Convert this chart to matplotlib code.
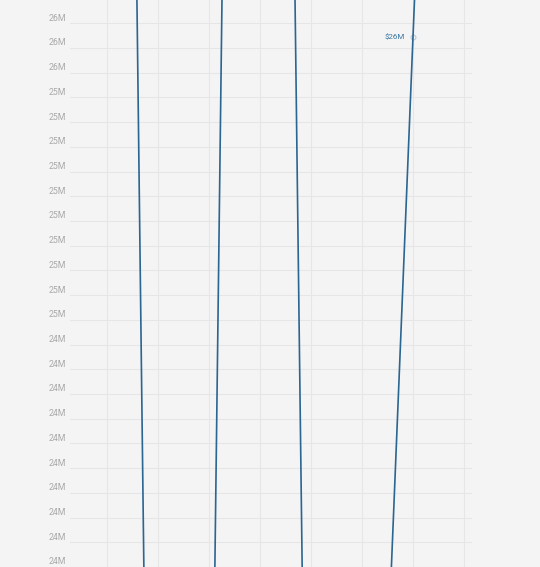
#!/usr/bin/env python

import matplotlib
matplotlib.use('Agg')
import matplotlib.pyplot as plt
import matplotlib.transforms as mtransforms
import numpy as np

# decimal years and values (millions of dollars)
years = [2015.90, 2017.41, 2018.97, 2020.24, 2022.0, 2022.75]
values = [37.4, 11.9, 37.55, 16.73, 25.645, 29.4]
label_idx = 4  # the point carrying the value label

y_ticks = [23.5, 23.6, 23.7, 23.8, 23.9, 24.0, 24.1, 24.2, 24.3, 24.4,
           24.5, 24.6, 24.7, 24.8, 24.9, 25.0, 25.1, 25.2, 25.3, 25.4,
           25.5, 25.6, 25.7]
y_tick_labels = ['24M'] * 10 + ['25M'] * 10 + ['26M'] * 3
x_grid = [2016, 2017, 2018, 2019, 2020, 2021, 2022, 2023]
point_label = '$26M'

bg = '#f4f4f4'
line_color = '#2b6591'
grid_color = '#e6e6e6'


def main():
    fig = plt.figure(figsize=(5.4, 5.67), dpi=100)
    fig.patch.set_facecolor(bg)
    ax = fig.add_axes([70 / 540, 0, 402 / 540, 1])
    ax.set_facecolor(bg)

    ax.plot(years, values, color=line_color, lw=1.2, solid_joinstyle='miter')
    px, py = years[label_idx], values[label_idx]
    ax.plot([px], [py], 'o', ms=3.5, mfc='none',
            mec='#b3cadc', mew=0.8, zorder=1)
    ax.annotate(point_label, (px, py), xytext=(-6, 0),
                textcoords='offset points', ha='right', va='center',
                fontsize=5.8, color='#3a76a4', family='Roboto')

    ax.set_xlim(2015.275, 2023.157)
    ax.set_ylim(23.508, 25.794)

    ax.set_yticks(y_ticks)
    ax.set_yticklabels(y_tick_labels, fontsize=6.3, color='#a9a9a9',
                       family='Roboto')
    ax.tick_params(axis='y', length=0, pad=2.6)
    offset = mtransforms.ScaledTranslation(0, 6 / 100, fig.dpi_scale_trans)
    for lbl in ax.get_yticklabels():
        lbl.set_transform(lbl.get_transform() + offset)

    ax.set_xticks(x_grid)
    ax.set_xticklabels([])
    ax.tick_params(axis='x', length=0)

    ax.grid(True, color=grid_color, lw=0.8)
    ax.set_axisbelow(True)
    for s in ax.spines.values():
        s.set_visible(False)

    plt.savefig('out.png', dpi=100, facecolor=bg)


if __name__ == '__main__':
    main()
